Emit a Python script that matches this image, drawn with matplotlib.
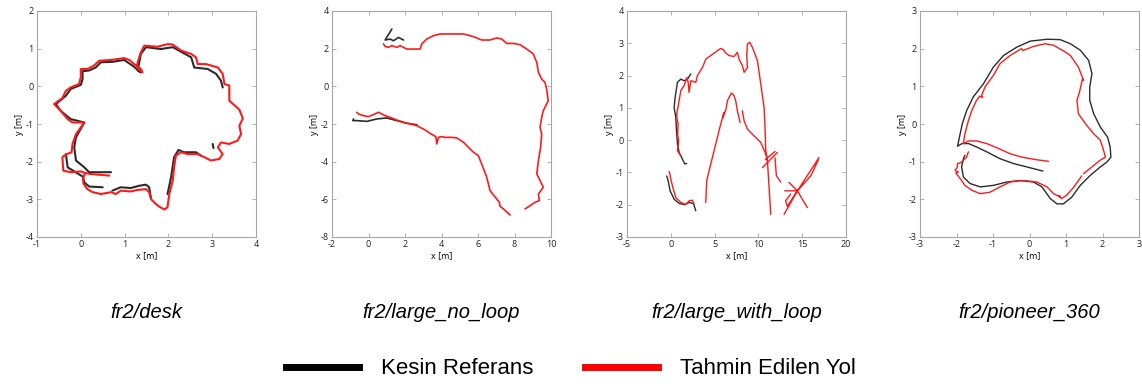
import numpy as np
import matplotlib
matplotlib.use("Agg")
import matplotlib.pyplot as plt
from matplotlib.lines import Line2D

plt.rcParams["axes.unicode_minus"] = False
nan = np.nan

# fr2/desk
desk_gt_x = [0.69, 0.42, 0.19, 0.08, -0.11, -0.15, -0.11, 0.08, -0.23, -0.46, -0.57, -0.34, -0.23, 0.0, 0.04, 0.04,
             0.19, 0.34, 0.46, 0.72, 0.99, 1.18, 1.37, 1.30, 1.37, 1.49, 1.83, 2.10, 2.52, 2.59, 2.90, 3.09, 3.20, 3.24,
             nan, 3.01, 3.03,
             nan, 2.74, 2.63, 2.36, 2.23, 2.13, 2.06, 1.98,
             nan, 1.60, 1.56, 1.49, 1.33, 1.14, 0.91, 0.72,
             nan, 0.50, 0.19, 0.08, 0.05, -0.30, -0.34]
desk_gt_y = [-2.28, -2.28, -2.28, -2.15, -1.97, -1.62, -1.35, -0.96, -0.87, -0.65, -0.47, -0.25, -0.07, 0.04, 0.19, 0.40,
             0.42, 0.50, 0.64, 0.65, 0.70, 0.55, 0.37, 0.42, 0.86, 1.04, 0.99, 1.04, 0.77, 0.50, 0.46, 0.33, 0.15, -0.03,
             nan, -1.53, -1.64,
             nan, -1.84, -1.75, -1.75, -1.69, -1.88, -2.42, -2.86,
             nan, -2.95, -2.68, -2.61, -2.64, -2.70, -2.68, -2.77,
             nan, -2.68, -2.66, -2.55, -2.40, -2.15, -1.80]
desk_est_x = [0.10, 0.05, 0.06, 0.15, 0.27, 0.46, 0.69, 0.80, 0.91, 1.14, 1.30, 1.49, 1.56, 1.60, 1.71, 1.80, 1.91,
              1.98, 2.02, 2.10, 2.13, 2.17, 2.29, 2.44, 2.67, 2.82, 2.97, 3.16, 3.24, 3.13, 3.20, 3.39, 3.58, 3.66,
              3.62, 3.70, 3.62, 3.39, 3.39, 3.28, 3.24, 3.13, 2.86, 2.67, 2.63, 2.52, 2.29, 2.10, 1.98, 1.75, 1.45,
              1.37, 1.30, 1.28, 1.41, 1.37, 1.22, 1.11, 0.99, 0.69, 0.42, 0.30, 0.15, 0.0, 0.0, -0.04, -0.23, -0.34,
              -0.42, -0.61, -0.46, -0.30, -0.19, 0.08, -0.11, -0.19, -0.21, -0.34, -0.42, -0.40, -0.23, 0.0, 0.10,
              0.23, 0.45, 0.65]
desk_est_y = [-2.30, -2.45, -2.58, -2.73, -2.81, -2.86, -2.81, -2.86, -2.77, -2.79, -2.75, -2.73, -2.81, -2.99, -3.12,
              -3.20, -3.27, -3.21, -2.86, -2.50, -2.15, -1.84, -1.75, -1.80, -1.80, -1.88, -1.97, -1.93, -1.80, -1.62,
              -1.49, -1.53, -1.44, -1.27, -1.05, -0.85, -0.62, -0.38, 0.02, 0.06, 0.33, 0.50, 0.59, 0.59, 0.77, 0.86,
              0.95, 1.11, 1.12, 1.05, 1.08, 0.90, 0.64, 0.50, 0.37, 0.46, 0.59, 0.70, 0.75, 0.70, 0.68, 0.55, 0.46,
              0.46, 0.24, 0.06, -0.03, -0.12, -0.31, -0.47, -0.65, -0.87, -0.96, -0.96, -1.27, -1.53, -1.75, -1.81,
              -1.88, -2.24, -2.28, -2.26, -2.30, -2.33, -2.35, -2.37]

# fr2/large_no_loop
nl_gt_x = [-0.82, -0.86, -0.64, -0.09, 0.46, 1.00, 1.55, 2.10, 2.65,
           nan, 1.28, 0.91, 1.19, 1.37, 1.64, 1.92]
nl_gt_y = [-1.73, -1.82, -1.82, -1.86, -1.73, -1.68, -1.82, -1.96, -2.04,
           nan, 3.04, 2.46, 2.51, 2.42, 2.60, 2.46]
nl_est_x = [7.76, 7.39, 7.21, 7.17, 6.66, 6.48, 6.20, 6.02, 5.75, 5.57, 5.20, 4.84, 4.56, 4.20, 4.01, 3.83, 3.74,
            3.69, 3.38, 3.10, 2.83, 2.65, 2.28, 1.92, 1.55, 1.19, 0.91, 0.55, 0.27, 0.0, -0.27, -0.55, -0.64,
            nan, 8.58, 8.85, 9.12, 9.36, 9.31, 9.58, 9.22, 9.31, 9.43, 9.49, 9.40, 9.49, 9.58, 9.85, 9.76, 9.67,
            9.49, 9.31, 9.22, 9.03, 8.67, 8.30, 7.94, 7.57, 7.30, 7.03, 6.66, 6.20, 5.75, 5.20, 4.47, 3.92, 3.56,
            3.19, 2.92, 2.83, 2.46, 2.10, 1.73, 1.55, 1.28, 1.09, 0.91, 0.82]
nl_est_y = [-6.83, -6.51, -6.37, -6.16, -5.54, -4.83, -4.12, -3.68, -3.50, -3.33, -2.97, -2.74, -2.71, -2.71, -2.67,
            -2.71, -3.06, -2.67, -2.50, -2.32, -2.18, -2.09, -2.00, -1.91, -1.79, -1.65, -1.56, -1.38, -1.50, -1.61,
            -1.56, -1.47, -1.38,
            nan, -6.51, -6.34, -6.16, -6.07, -5.72, -5.36, -4.65, -3.95, -3.24, -2.53, -2.18, -1.65, -1.29, -0.76,
            -0.14, 0.21, 0.39, 0.74, 1.27, 1.72, 1.98, 2.21, 2.28, 2.28, 2.51, 2.57, 2.46, 2.46, 2.64, 2.78, 2.78,
            2.78, 2.69, 2.51, 2.25, 1.98, 1.98, 1.98, 2.16, 2.07, 2.16, 2.07, 2.12, 2.25]

# fr2/large_with_loop
wl_gt_x = [2.28, 1.90, 1.52, 1.14, 0.76, 0.49, 0.38, 0.57, 0.65, 0.76, 0.95, 1.33, 1.60, 1.80,
           nan, -0.46, -0.30, -0.08, 0.38, 0.95, 1.60, 2.09, 2.59, 2.85]
wl_gt_y = [2.05, 1.89, 1.84, 1.89, 1.79, 1.32, 1.01, 0.70, 0.29, -0.12, -0.38, -0.59, -0.74, -0.72,
           nan, -1.11, -1.26, -1.57, -1.83, -1.96, -2.00, -1.93, -1.96, -2.19]
wl_est_x = [1.14, 0.76, 0.90, 0.78, 0.84, 0.72, 0.68, 0.95, 1.14, 1.52, 1.83, 1.98, 2.09, 2.28, 2.85, 3.04, 3.61,
            4.00, 4.56, 5.32, 5.70, 6.00, 6.27, 6.65, 7.22, 7.60, 7.79, 8.17, 8.37, 8.75, 8.67, 8.75, 9.01, 9.32,
            9.89, 10.27, 10.65, 10.76, 10.84, 11.03, 11.22, 11.41,
            nan, 3.99, 4.10, 4.56, 5.13, 5.70, 6.08, 5.95, 6.30, 6.46, 6.92, 7.22, 7.41, 7.60, 7.91,
            nan, 8.17, 8.37, 8.75, 9.51, 10.27, 10.84, 11.03,
            nan, 10.46, 12.17,
            nan, 10.80, 11.90,
            nan, 11.90, 12.05, 12.55,
            nan, 12.93, 14.45, 16.92,
            nan, 13.00, 14.45, 15.59,
            nan, 13.50, 14.45, 16.00, 16.85,
            nan, 13.69, 13.10, 13.30, 14.45,
            nan, -0.19, -0.10, 0.0, 0.19, 0.57, 1.14, 1.71, 2.09, 2.47, 2.66]
wl_est_y = [-0.49, -0.33, -0.05, 0.19, 0.50, 0.62, 0.81, 1.22, 1.53, 1.69, 1.94, 1.79, 1.48, 1.84, 1.79, 2.00, 2.25,
            2.51, 2.62, 2.77, 2.84, 2.80, 2.70, 2.62, 2.59, 2.72, 2.51, 2.31, 2.10, 2.25, 2.62, 2.98, 3.03, 2.87,
            2.46, 1.74, 1.01, 0.39, -0.33, -0.64, -1.47, -2.30,
            nan, -1.93, -1.26, -0.74, -0.12, 0.50, 0.86, 0.70, 0.95, 1.22, 1.46, 1.38, 1.22, 0.91, 0.55,
            nan, 0.91, 0.60, 0.34, 0.13, -0.07, -0.43, -0.64,
            nan, -0.85, -0.38,
            nan, -0.60, -0.35,
            nan, -0.55, -1.10, -1.30,
            nan, -2.30, -1.57, -0.54,
            nan, -1.57, -1.57, -2.09,
            nan, -1.31, -1.57, -1.10, -0.60,
            nan, -1.67, -1.88, -2.05, -1.57,
            nan, -0.97, -1.05, -1.21, -1.42, -1.78, -1.93, -1.99, -1.88, -1.86, -1.99]

# fr2/pioneer_360
pi_gt_x = [0.37, -0.07, -0.44, -0.81, -1.17, -1.45, -1.67, -1.85, -1.97, -1.92, -1.84, -1.72, -1.54, -1.26, -0.99,
           -0.71, -0.35, 0.02, 0.48, 0.84, 1.12, 1.39, 1.62, 1.71, 1.65, 1.65, 1.76, 1.94, 2.14, 2.21, 2.23, 2.12,
           1.94, 1.67, 1.39, 1.16, 0.93, 0.75, 0.57, 0.34, 0.11, -0.26, -0.62, -0.99, -1.35, -1.63, -1.81, -1.86,
           -1.81, -1.77]
pi_gt_y = [-1.25, -1.14, -1.05, -0.92, -0.74, -0.61, -0.52, -0.52, -0.59, -0.35, 0.01, 0.36, 0.72, 1.07, 1.51,
           1.82, 2.04, 2.20, 2.25, 2.24, 2.13, 1.96, 1.69, 1.34, 0.98, 0.63, 0.27, -0.08, -0.35, -0.61, -0.88, -1.01,
           -1.14, -1.36, -1.63, -1.94, -2.12, -2.12, -1.98, -1.67, -1.54, -1.50, -1.54, -1.63, -1.67, -1.58, -1.41,
           -1.14, -0.92, -0.83]
pi_est_x = [0.52, 0.20, -0.21, -0.53, -0.85, -1.17, -1.45, -1.67, -1.81, -1.77, -1.67, -1.58, -1.45, -1.36, -1.28,
            -1.31, -1.22, -0.99, -0.81, -0.53, -0.22, -0.18, 0.11, 0.43, 0.66, 0.93, 1.12, 1.34, 1.48, 1.45, 1.37,
            1.30, 1.34, 1.57, 1.76, 1.94, 2.03, 2.08, 1.94, 1.76, 1.48,
            nan, 1.43, 1.21, 1.02, 0.88, 0.80, 0.84, 0.66, 0.48, 0.20, -0.16, -0.53, -0.81, -1.08, -1.35, -1.58,
            -1.77, -1.86, -1.97, -2.02, -1.95, -2.04, -1.98, -1.97, -1.90, -1.86, -1.80, -1.72, -1.70, -1.67]
pi_est_y = [-0.99, -0.95, -0.88, -0.79, -0.65, -0.52, -0.45, -0.45, -0.52, -0.26, 0.10, 0.36, 0.63, 0.74, 0.70,
            0.76, 0.98, 1.29, 1.60, 1.82, 2.00, 1.95, 2.06, 2.13, 2.09, 1.94, 1.82, 1.51, 1.16, 1.20, 0.85, 0.63,
            0.27, -0.04, -0.26, -0.43, -0.70, -0.88, -0.96, -1.10, -1.32,
            nan, -1.38, -1.68, -1.89, -1.98, -1.90, -1.94, -1.85, -1.67, -1.54, -1.50, -1.54, -1.67, -1.81, -1.85,
            -1.76, -1.63, -1.50, -1.36, -1.30, -1.28, -1.23, -1.15, -1.05, -1.03, -1.01, -0.95, -0.88, -0.80, -0.74]

titles = ["fr2/desk", "fr2/large_no_loop", "fr2/large_with_loop", "fr2/pioneer_360"]
x_limits = [(-1, 4), (-2, 10), (-5, 20), (-3, 3)]
y_limits = [(-4, 2), (-8, 4), (-3, 4), (-3, 3)]
x_steps = [1, 2, 5, 1]
y_steps = [1, 2, 1, 1]
legend_labels = ["Kesin Referans", "Tahmin Edilen Yol"]

panels = [(desk_gt_x, desk_gt_y, desk_est_x, desk_est_y),
          (nl_gt_x, nl_gt_y, nl_est_x, nl_est_y),
          (wl_gt_x, wl_gt_y, wl_est_x, wl_est_y),
          (pi_gt_x, pi_gt_y, pi_est_x, pi_est_y)]
line_widths = [1.5, 1.2, 1.0, 1.0]

W, H = 1142, 388
fig = plt.figure(figsize=(W / 100, H / 100), dpi=100)
lefts = [37, 332, 627, 920]
grey = "#a6a6a6"

for i, (gx, gy, ex, ey) in enumerate(panels):
    ax = fig.add_axes([lefts[i] / W, (H - 237) / H, 219 / W, 226 / H])
    ax.plot(gx, gy, color="#2b2b2b", lw=line_widths[i], solid_capstyle="round", solid_joinstyle="round")
    ax.plot(ex, ey, color="#ff1a1a", lw=line_widths[i], solid_capstyle="round", solid_joinstyle="round")
    ax.set_xlim(*x_limits[i])
    ax.set_ylim(*y_limits[i])
    ax.set_xticks(np.arange(x_limits[i][0], x_limits[i][1] + 0.1, x_steps[i]))
    ax.set_yticks(np.arange(y_limits[i][0], y_limits[i][1] + 0.1, y_steps[i]))
    ax.tick_params(direction="in", length=3, width=0.6, color=grey, labelsize=6.5,
                   top=True, right=True, pad=2.5, labelcolor="#222222")
    for lab in ax.get_xticklabels() + ax.get_yticklabels():
        lab.set_family("Open Sans")
    for s in ax.spines.values():
        s.set_color(grey)
        s.set_linewidth(0.8)
    ax.set_xlabel("x [m]", fontsize=6.5, labelpad=1, family="Open Sans")
    ax.set_ylabel("y [m]", fontsize=6.5, labelpad=1, family="Open Sans")
    cx = (lefts[i] + 109.5) / W
    fig.text(cx, 1 - 312 / H, titles[i], ha="center", va="center",
             fontsize=14.5, style="italic", family="Liberation Sans")

handles = [Line2D([], [], color="black", lw=5), Line2D([], [], color="red", lw=5)]
fig.legend(handles, legend_labels, loc="center", bbox_to_anchor=(0.5, 1 - 369 / H), ncol=2,
           frameon=False, handlelength=3.3, handletextpad=1.0, columnspacing=2.3,
           prop={"family": "Liberation Sans", "size": 16})

fig.savefig("out.png", dpi=100)
